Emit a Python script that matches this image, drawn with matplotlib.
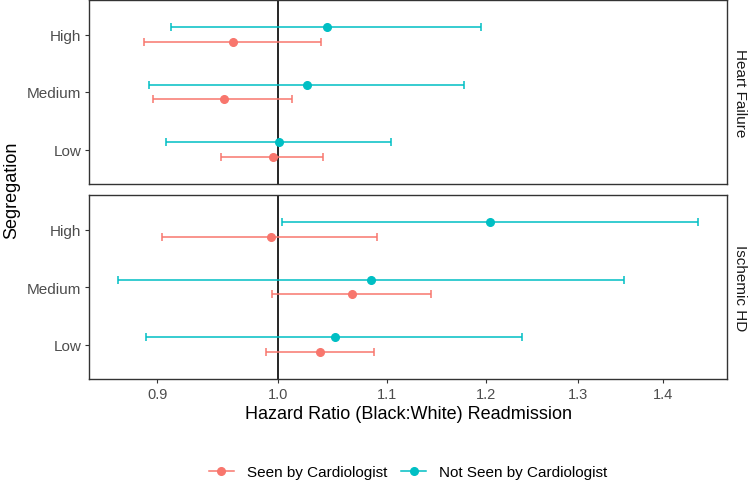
import matplotlib.pyplot as plt
import numpy as np
from matplotlib.lines import Line2D
from matplotlib.ticker import FixedLocator, FixedFormatter, NullLocator

plt.rcParams['font.family'] = ['Liberation Sans', 'DejaVu Sans']

# segregation levels, bottom to top
levels = ["Low", "Medium", "High"]
facets = ["Heart Failure", "Ischemic HD"]
groups = ["Seen by Cardiologist", "Not Seen by Cardiologist"]
colors = ["#F8766D", "#00BFC4"]

# Heart Failure: hazard ratio estimate and 95% CI
hf_seen_est = [0.996, 0.954, 0.962]
hf_seen_lo = [0.952, 0.897, 0.890]
hf_seen_hi = [1.040, 1.013, 1.039]
hf_not_est = [1.001, 1.026, 1.044]
hf_not_lo = [0.907, 0.894, 0.911]
hf_not_hi = [1.104, 1.177, 1.195]

# Ischemic HD
ihd_seen_est = [1.038, 1.067, 0.994]
ihd_seen_lo = [0.990, 0.995, 0.904]
ihd_seen_hi = [1.088, 1.143, 1.091]
ihd_not_est = [1.051, 1.085, 1.204]
ihd_not_lo = [0.891, 0.870, 1.004]
ihd_not_hi = [1.238, 1.353, 1.444]

xticks = [0.9, 1.0, 1.1, 1.2, 1.3, 1.4]
xtick_labels = ["0.9", "1.0", "1.1", "1.2", "1.3", "1.4"]

panels = [
    [(hf_seen_est, hf_seen_lo, hf_seen_hi), (hf_not_est, hf_not_lo, hf_not_hi)],
    [(ihd_seen_est, ihd_seen_lo, ihd_seen_hi), (ihd_not_est, ihd_not_lo, ihd_not_hi)],
]

W, H = 750, 485
fig = plt.figure(figsize=(W / 100, H / 100), dpi=100)
left, right = 89, 727
boxes = [(1, 185), (196, 380)]
dodge = [-0.125, 0.125]
ypos = np.arange(1, len(levels) + 1)

axes = []
for i, (top, bot) in enumerate(boxes):
    ax = fig.add_axes([left / W, 1 - bot / H, (right - left) / W, (bot - top) / H])
    axes.append(ax)
    ax.set_xscale('log')
    ax.axvline(1.0, color='black', lw=1.2, zorder=1)
    for g, (est, lo, hi) in enumerate(panels[i]):
        est = np.array(est)
        err = np.vstack([est - np.array(lo), np.array(hi) - est])
        ax.errorbar(est, ypos + dodge[g], xerr=err, fmt='o', color=colors[g],
                    ms=5.5, elinewidth=1.1, capsize=2.8, capthick=1.1, zorder=3)
    ax.set_xlim(0.848, 1.481)
    ax.set_ylim(0.4, 3.6)
    ax.set_yticks(ypos)
    ax.set_yticklabels(levels)
    ax.xaxis.set_major_locator(FixedLocator(xticks))
    ax.xaxis.set_major_formatter(FixedFormatter(xtick_labels))
    ax.xaxis.set_minor_locator(NullLocator())
    for s in ax.spines.values():
        s.set_color('#333333')
        s.set_linewidth(1.0)
    ax.tick_params(axis='both', length=3, width=0.8, color='#333333',
                   labelcolor='#4D4D4D', labelsize=10.5, pad=2.5)
    ax.tick_params(axis='y', labelsize=11)
    ax.text(1.0 + 13 / (right - left), 0.5, facets[i], rotation=-90,
            transform=ax.transAxes, ha='center', va='center',
            fontsize=11, color='#1A1A1A')

axes[0].tick_params(axis='x', labelbottom=False, length=0)

fig.text(12 / W, 1 - 190 / H, "Segregation", rotation=90, ha='center',
         va='center', fontsize=13)
fig.text((left + right) / 2 / W, 1 - 415 / H,
         "Hazard Ratio (Black:White) Readmission", ha='center', va='center',
         fontsize=13)

handles = [Line2D([], [], color=c, marker='o', ms=5.5, lw=1.1) for c in colors]
fig.legend(handles, groups, loc='center', bbox_to_anchor=(408 / W, 1 - 473 / H),
           ncol=2, frameon=False, fontsize=11, handlelength=1.65,
           handletextpad=0.85, columnspacing=0.9)

fig.savefig('out.png', dpi=100)
